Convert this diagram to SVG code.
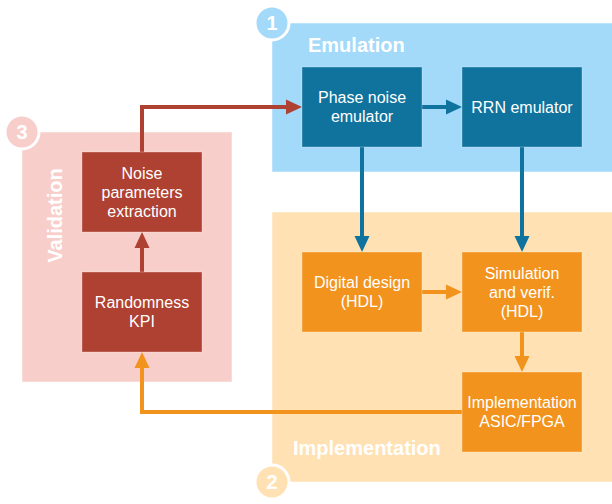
<svg xmlns="http://www.w3.org/2000/svg" width="612" height="504" viewBox="0 0 612 504">
<style>
.box{stroke:#ffffff;stroke-opacity:0.3;stroke-width:1}
.blue{fill:#10739e}
.red{fill:#ae4132}
.orange{fill:#f2931e}
.bt{font-family:"Liberation Sans",Arial,sans-serif;font-size:16px;fill:#ffffff;text-anchor:middle}
.title{font-family:"Liberation Sans",Arial,sans-serif;font-size:20px;font-weight:bold;fill:#ffffff}
.num{font-family:"Liberation Sans",Arial,sans-serif;font-size:20px;font-weight:bold;fill:#ffffff;text-anchor:middle}
.panel{stroke:#ffffff;stroke-opacity:0.5;stroke-width:1}
.badge{stroke:#ffffff;stroke-width:3}
.conn{fill:none;stroke-width:4}
</style>
<defs>
<marker id="aBlue" markerUnits="userSpaceOnUse" markerWidth="18" markerHeight="16" viewBox="0 0 18 16" refX="2" refY="8" orient="auto"><path d="M0,0.5 L16,8 L0,15.5 z" fill="#10739e"/></marker>
<marker id="aRed" markerUnits="userSpaceOnUse" markerWidth="18" markerHeight="16" viewBox="0 0 18 16" refX="2" refY="8" orient="auto"><path d="M0,0.5 L16,8 L0,15.5 z" fill="#ae4132"/></marker>
<marker id="aOrange" markerUnits="userSpaceOnUse" markerWidth="18" markerHeight="16" viewBox="0 0 18 16" refX="2" refY="8" orient="auto"><path d="M0,0.5 L16,8 L0,15.5 z" fill="#f2931e"/></marker>
</defs>

<g id="panel-emulation">
<rect class="panel" x="272" y="23" width="350" height="149" fill="#a3d9f9"/>
<text class="title" x="308" y="52">Emulation</text>
</g>
<g id="panel-implementation">
<rect class="panel" x="272" y="212" width="350" height="270" fill="#ffe1b3"/>
<text class="title" x="293" y="455">Implementation</text>
</g>
<g id="panel-validation">
<rect class="panel" x="22" y="132" width="210" height="250" fill="#f8ceca"/>
<text class="title" text-anchor="middle" transform="translate(62,215.5) rotate(-90)">Validation</text>
</g>

<g id="connectors">
<path class="conn" stroke="#ae4132" d="M142,152 L142,107 L288,107" marker-end="url(#aRed)"/>
<path class="conn" stroke="#10739e" d="M422,107 L448,107" marker-end="url(#aBlue)"/>
<path class="conn" stroke="#10739e" d="M362,147 L362,238" marker-end="url(#aBlue)"/>
<path class="conn" stroke="#10739e" d="M522,147 L522,238" marker-end="url(#aBlue)"/>
<path class="conn" stroke="#f2931e" d="M422,292 L448,292" marker-end="url(#aOrange)"/>
<path class="conn" stroke="#f2931e" d="M522,332 L522,358" marker-end="url(#aOrange)"/>
<path class="conn" stroke="#f2931e" d="M462,412 L142,412 L142,366" marker-end="url(#aOrange)"/>
<path class="conn" stroke="#ae4132" d="M142,272 L142,246" marker-end="url(#aRed)"/>
</g>

<g id="node-phase-noise">
<rect class="box blue" x="302" y="67" width="120" height="80"/>
<text class="bt" x="362" y="103">Phase noise</text>
<text class="bt" x="362" y="122">emulator</text>
</g>
<g id="node-rrn">
<rect class="box blue" x="462" y="67" width="120" height="80"/>
<text class="bt" x="522" y="112.7">RRN emulator</text>
</g>
<g id="node-digital-design">
<rect class="box orange" x="302" y="252" width="120" height="80"/>
<text class="bt" x="362" y="288">Digital design</text>
<text class="bt" x="362" y="307">(HDL)</text>
</g>
<g id="node-simulation">
<rect class="box orange" x="462" y="252" width="120" height="80"/>
<text class="bt" x="522" y="278.7">Simulation</text>
<text class="bt" x="522" y="297.7">and verif.</text>
<text class="bt" x="522" y="316.7">(HDL)</text>
</g>
<g id="node-implementation">
<rect class="box orange" x="462" y="372" width="120" height="80"/>
<text class="bt" x="522" y="408">Implementation</text>
<text class="bt" x="522" y="427">ASIC/FPGA</text>
</g>
<g id="node-noise-params">
<rect class="box red" x="82" y="152" width="120" height="80"/>
<text class="bt" x="142" y="178.7">Noise</text>
<text class="bt" x="142" y="197.7">parameters</text>
<text class="bt" x="142" y="216.7">extraction</text>
</g>
<g id="node-randomness">
<rect class="box red" x="82" y="272" width="120" height="80"/>
<text class="bt" x="142" y="308">Randomness</text>
<text class="bt" x="142" y="327">KPI</text>
</g>

<g id="badge-1">
<circle class="badge" cx="272" cy="23" r="17" fill="#a3d9f9"/>
<text class="num" x="272" y="30">1</text>
</g>
<g id="badge-2">
<circle class="badge" cx="272" cy="482" r="17" fill="#ffe1b3"/>
<text class="num" x="272" y="489">2</text>
</g>
<g id="badge-3">
<circle class="badge" cx="22" cy="132" r="17" fill="#f8ceca"/>
<text class="num" x="22" y="139">3</text>
</g>
</svg>
